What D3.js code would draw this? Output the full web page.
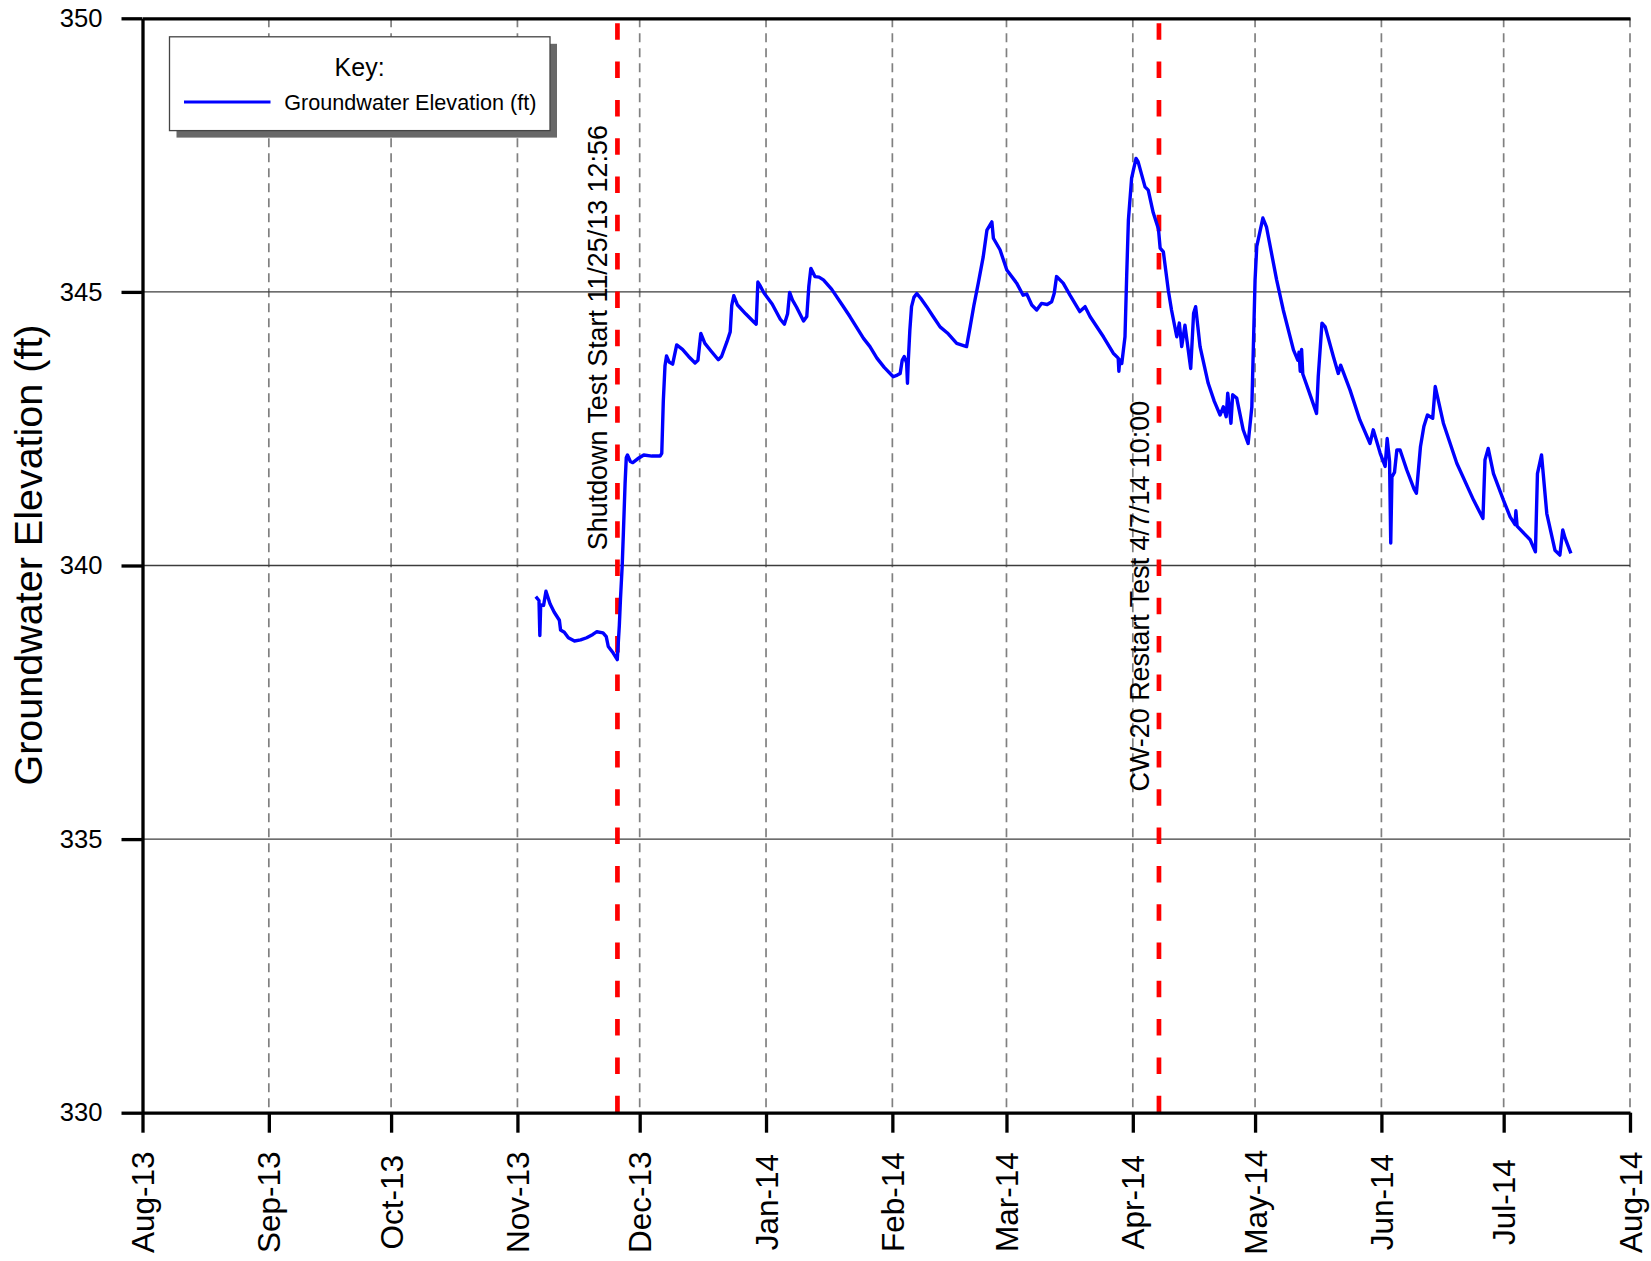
<!DOCTYPE html>
<html><head><meta charset="utf-8">
<script src="https://cdn.jsdelivr.net/npm/d3@7"></script>
<style>
body{margin:0;background:#fff}
svg{display:block}
text{font-family:"Liberation Sans",Arial,Helvetica,sans-serif;fill:#000}
</style>
</head><body>
<svg id="chart" width="1651" height="1261"></svg>
<script>
// ---------------- data ----------------
const seriesName = "Groundwater Elevation (ft)";
const dates = [
"2013-11-05 12","2013-11-06 07","2013-11-06 12","2013-11-06 17","2013-11-07 10","2013-11-08 00","2013-11-09 00","2013-11-10 00",
"2013-11-11 07","2013-11-11 14","2013-11-12 12","2013-11-13 12","2013-11-15 00","2013-11-16 12","2013-11-18 00","2013-11-19 12",
"2013-11-20 12","2013-11-22 00","2013-11-22 19","2013-11-23 07","2013-11-24 12","2013-11-25 12","2013-11-26 00","2013-11-26 07",
"2013-11-26 17","2013-11-27 00","2013-11-27 10","2013-11-27 17","2013-11-28 00","2013-11-28 17","2013-11-29 07","2013-11-30 12",
"2013-12-02 00","2013-12-04 00","2013-12-06 00","2013-12-06 10","2013-12-06 19","2013-12-07 05","2013-12-07 14","2013-12-08 05",
"2013-12-09 02","2013-12-10 02","2013-12-11 12","2013-12-13 00","2013-12-14 14","2013-12-15 07","2013-12-16 00","2013-12-17 00",
"2013-12-18 12","2013-12-20 07","2013-12-21 02","2013-12-22 10","2013-12-23 05","2013-12-23 14","2013-12-24 02","2013-12-25 00",
"2013-12-27 00","2013-12-29 00","2013-12-29 14","2013-12-30 00","2013-12-30 12","2013-12-31 12","2014-01-02 12","2014-01-04 12",
"2014-01-05 12","2014-01-06 07","2014-01-06 19","2014-01-07 12","2014-01-08 12","2014-01-10 05","2014-01-11 00","2014-01-11 12",
"2014-01-12 00","2014-01-13 00","2014-01-14 00","2014-01-15 02","2014-01-17 02","2014-01-19 17","2014-01-21 14","2014-01-24 22",
"2014-01-26 12","2014-01-28 05","2014-01-30 00","2014-02-01 05","2014-02-02 05","2014-02-02 22","2014-02-03 10","2014-02-03 22",
"2014-02-04 12","2014-02-04 17","2014-02-04 22","2014-02-05 07","2014-02-05 17","2014-02-06 07","2014-02-07 00","2014-02-08 00",
"2014-02-09 10","2014-02-11 00","2014-02-12 17","2014-02-14 12","2014-02-16 19","2014-02-19 05","2014-02-20 02","2014-02-21 00",
"2014-02-22 02","2014-02-23 07","2014-02-24 05","2014-02-25 10","2014-02-25 19","2014-02-27 10","2014-03-01 02","2014-03-03 12",
"2014-03-05 02","2014-03-06 00","2014-03-07 05","2014-03-08 10","2014-03-09 14","2014-03-11 00","2014-03-12 02","2014-03-12 17",
"2014-03-13 07","2014-03-14 22","2014-03-16 14","2014-03-19 00","2014-03-20 07","2014-03-21 12","2014-03-24 19","2014-03-27 05",
"2014-03-28 10","2014-03-28 14","2014-03-28 19","2014-03-29 07","2014-03-30 02","2014-03-30 12","2014-03-30 22","2014-03-31 17",
"2014-04-01 19","2014-04-02 07","2014-04-04 00","2014-04-04 19","2014-04-06 00","2014-04-07 07","2014-04-07 17","2014-04-08 12",
"2014-04-09 17","2014-04-10 12","2014-04-11 19","2014-04-12 10","2014-04-13 00","2014-04-13 19","2014-04-15 05","2014-04-15 22",
"2014-04-16 10","2014-04-17 12","2014-04-19 12","2014-04-21 00","2014-04-22 10","2014-04-23 05","2014-04-23 22","2014-04-24 07",
"2014-04-25 02","2014-04-25 12","2014-04-26 12","2014-04-28 02","2014-04-29 07","2014-04-30 05","2014-05-01 00","2014-05-01 10",
"2014-05-02 22","2014-05-03 19","2014-05-06 07","2014-05-07 22","2014-05-10 10","2014-05-11 12","2014-05-11 19","2014-05-12 02",
"2014-05-12 10","2014-05-12 17","2014-05-14 02","2014-05-16 02","2014-05-16 12","2014-05-17 10","2014-05-18 05","2014-05-20 05",
"2014-05-21 10","2014-05-22 00","2014-05-24 07","2014-05-26 17","2014-05-29 05","2014-05-30 00","2014-05-31 17","2014-06-01 22",
"2014-06-02 10","2014-06-03 00","2014-06-03 07","2014-06-03 14","2014-06-04 05","2014-06-04 19","2014-06-05 14","2014-06-07 05",
"2014-06-09 00","2014-06-09 14","2014-06-10 14","2014-06-11 10","2014-06-12 07","2014-06-13 14","2014-06-14 05","2014-06-16 05",
"2014-06-19 12","2014-06-23 14","2014-06-25 22","2014-06-26 10","2014-06-27 05","2014-06-28 12","2014-06-30 22","2014-07-02 14",
"2014-07-03 19","2014-07-04 00","2014-07-04 07","2014-07-07 12","2014-07-08 19","2014-07-09 07","2014-07-10 07","2014-07-11 14",
"2014-07-13 14","2014-07-14 19","2014-07-15 12","2014-07-16 02","2014-07-17 12"
];
const values = [
339.43,339.36,338.72,339.28,339.27,339.53,339.30,339.15,
339.00,338.82,338.78,338.68,338.62,338.64,338.68,338.74,
338.79,338.77,338.70,338.52,338.40,338.28,338.90,339.40,
340.00,340.60,341.50,341.97,342.02,341.90,341.88,341.95,
342.02,342.00,342.00,342.05,343.00,343.65,343.83,343.72,
343.68,344.03,343.95,343.82,343.70,343.75,344.24,344.06,
343.92,343.76,343.82,344.09,344.27,344.75,344.93,344.76,
344.60,344.45,344.41,345.18,345.12,344.98,344.78,344.50,
344.41,344.60,344.99,344.85,344.72,344.47,344.55,345.10,
345.43,345.28,345.27,345.22,345.05,344.76,344.55,344.15,
344.00,343.79,343.62,343.45,343.48,343.51,343.75,343.82,
343.70,343.33,343.75,344.30,344.73,344.90,344.97,344.88,
344.73,344.55,344.36,344.25,344.06,344.00,344.36,344.75,
345.16,345.64,346.13,346.28,345.98,345.77,345.40,345.16,
344.94,344.96,344.76,344.67,344.79,344.77,344.82,344.97,
345.28,345.16,344.94,344.64,344.73,344.55,344.18,343.88,
343.79,343.55,343.76,343.69,344.18,345.30,346.31,347.08,
347.44,347.38,346.92,346.86,346.45,346.15,345.80,345.73,
345.03,344.67,344.18,344.43,344.00,344.39,343.60,344.61,
344.73,344.00,343.33,343.00,342.75,342.90,342.72,343.15,
342.60,343.12,343.06,342.48,342.23,342.90,345.22,345.83,
346.35,346.19,345.22,344.67,343.94,343.75,343.90,343.55,
343.95,343.50,343.21,342.78,343.45,344.43,344.36,343.82,
343.51,343.66,343.21,342.66,342.23,342.48,342.05,341.81,
342.32,341.90,340.41,341.62,341.70,342.11,342.11,341.75,
341.40,341.32,342.17,342.54,342.75,342.69,343.27,342.60,
341.87,341.20,340.86,341.93,342.14,341.68,341.20,340.89,
340.75,341.00,340.72,340.47,340.25,341.68,342.02,340.95,
340.28,340.19,340.65,340.50,340.22
];
const xDomain = ["2013-08-01 00","2014-08-01 00"];
const yDomain = [330, 350];
const yTickValues = [330, 335, 340, 345, 350];
const eventDates = ["2013-11-25 12:56", "2014-04-07 10:00"];
const eventLabels = ["Shutdown Test Start 11/25/13 12:56", "CW-20 Restart Test 4/7/14 10:00"];
const yTitle = "Groundwater Elevation (ft)";
const legendTitle = "Key:";

// ---------------- drawing ----------------
const parseH = d3.timeParse("%Y-%m-%d %H");
const parseM = d3.timeParse("%Y-%m-%d %H:%M");
const data = dates.map((d, i) => ({date: parseH(d), value: values[i]}));

const L = 142.5, R = 1630, T = 18.3, B = 1112.7;
const x = d3.scaleTime().domain(xDomain.map(parseH)).range([L, R]);
const y = d3.scaleLinear().domain(yDomain).range([B, T]);
const svg = d3.select("#chart");
const monthTicks = x.ticks(d3.timeMonth.every(1));

// vertical dashed gridlines
svg.append("g").selectAll("line").data(monthTicks.slice(1)).join("line")
  .attr("x1", d => x(d)).attr("x2", d => x(d)).attr("y1", T).attr("y2", B)
  .attr("stroke", "#808080").attr("stroke-width", 1.7).attr("stroke-dasharray", "9,6");

// horizontal gridlines
svg.append("g").selectAll("line").data(yTickValues.slice(1, -1)).join("line")
  .attr("x1", L).attr("x2", R).attr("y1", d => y(d)).attr("y2", d => y(d))
  .attr("stroke", "#3c3c3c").attr("stroke-width", 1.3);

// event lines (red dashed)
const ev = eventDates.map((d, i) => ({date: parseM(d), label: eventLabels[i]}));
svg.append("g").selectAll("line").data(ev).join("line")
  .attr("x1", d => x(d.date)).attr("x2", d => x(d.date)).attr("y1", T).attr("y2", B)
  .attr("stroke", "#ff0000").attr("stroke-width", 4.7)
  .attr("stroke-dasharray", "16.5,21.8").attr("stroke-dashoffset", -5);

// event labels
const labelStartValues = [340.28, 335.87];
svg.append("g").selectAll("text").data(ev).join("text")
  .attr("transform", (d, i) => `translate(${x(d.date) - 10},${y(labelStartValues[i])}) rotate(-90)`)
  .attr("text-anchor", "start").attr("font-size", "26.9px")
  .text(d => d.label);

// data line
svg.append("path").datum(data)
  .attr("fill", "none").attr("stroke", "#0000ff").attr("stroke-width", 3.4)
  .attr("stroke-linejoin", "round")
  .attr("d", d3.line().x(d => x(d.date)).y(d => y(d.value)));

// axes
const axL = svg.append("g").attr("transform", `translate(${L},0)`)
  .call(d3.axisLeft(y).tickValues(yTickValues).tickSizeInner(21).tickSizeOuter(0).tickPadding(19).tickFormat(d3.format("d")));
const axB = svg.append("g").attr("transform", `translate(0,${B})`)
  .call(d3.axisBottom(x).tickValues(monthTicks).tickSizeInner(20).tickSizeOuter(0).tickFormat(d3.timeFormat("%b-%y")));
const axT = svg.append("g").attr("transform", `translate(0,${T})`)
  .call(d3.axisTop(x).tickValues([]).tickSizeOuter(0));

[axL, axB, axT].forEach(a => {
  a.select(".domain").attr("stroke", "#000").attr("stroke-width", 3.3);
  a.selectAll(".tick line").attr("stroke", "#000").attr("stroke-width", 3.3);
});
axL.selectAll(".tick text").attr("font-size", "25.6px").attr("fill", "#000")
  .attr("font-family", "'Liberation Sans',Arial,sans-serif");
axB.selectAll(".tick text").attr("font-size", "31.5px").attr("fill", "#000")
  .attr("font-family", "'Liberation Sans',Arial,sans-serif")
  .attr("y", null).attr("dy", "0.35em").attr("text-anchor", "middle")
  .attr("transform", "translate(0,89.5) rotate(-90)");

// y title
svg.append("text")
  .attr("transform", `translate(41.5,555) rotate(-90)`)
  .attr("text-anchor", "middle").attr("font-size", "39.5px")
  .text(yTitle);

// legend
const lg = svg.append("g");
lg.append("rect").attr("x", 176.5).attr("y", 43.8).attr("width", 380.5).attr("height", 93.8).attr("fill", "#686868");
lg.append("rect").attr("x", 169.5).attr("y", 36.8).attr("width", 380.5).attr("height", 93.8)
  .attr("fill", "#fff").attr("stroke", "#444").attr("stroke-width", 1.3);
lg.append("text").attr("x", 359.6).attr("y", 76).attr("text-anchor", "middle").attr("font-size", "25px").text(legendTitle);
lg.append("line").attr("x1", 184).attr("x2", 270.5).attr("y1", 102).attr("y2", 102)
  .attr("stroke", "#0000ff").attr("stroke-width", 3);
lg.append("text").attr("x", 284.3).attr("y", 109.5).attr("font-size", "21.6px").text(seriesName);
</script>
</body></html>
